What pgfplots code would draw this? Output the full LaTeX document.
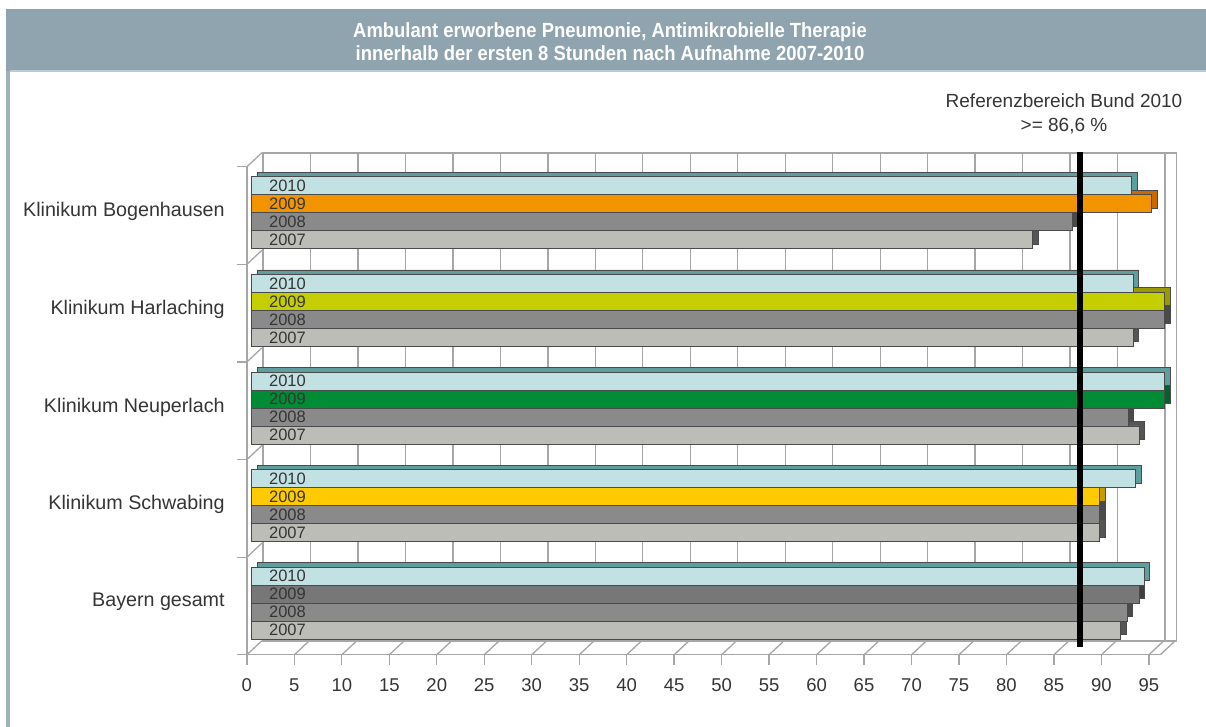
\documentclass[border=0pt]{standalone}
\usepackage{fontspec}
\setmainfont{Liberation Sans}
\newfontfamily\titlefont[FakeStretch=0.9]{Liberation Sans}
\usepackage{pgfplots}
\pgfplotsset{compat=1.18}

\definecolor{hdr}{HTML}{8FA4AE}
\definecolor{hdrlight}{HTML}{BACAD2}
\definecolor{sideline}{HTML}{9DB1BA}
\definecolor{gridgray}{HTML}{A6A6A6}
\definecolor{edge}{HTML}{4A4A4A}
\definecolor{txt}{HTML}{353535}
\definecolor{cA}{HTML}{C2E1E3}\definecolor{cAd}{HTML}{5F9E9E}
\definecolor{cG1}{HTML}{8A8A8A}\definecolor{cG1d}{HTML}{4A4A4A}
\definecolor{cG2}{HTML}{BDBDB8}\definecolor{cG2d}{HTML}{555555}
\definecolor{cOr}{HTML}{F29400}\definecolor{cOrd}{HTML}{C8680A}
\definecolor{cYg}{HTML}{C4CE00}\definecolor{cYgd}{HTML}{9A9A00}
\definecolor{cGr}{HTML}{008C35}\definecolor{cGrd}{HTML}{006428}
\definecolor{cYe}{HTML}{FFCB00}\definecolor{cYed}{HTML}{C79A00}
\definecolor{cDg}{HTML}{777777}\definecolor{cDgd}{HTML}{3E3E3E}

\pgfplotsset{
  frontbar/.style={xbar, bar width=0.184, bar shift=0pt, xshift=5pt, yshift=4.7pt,
    draw=edge, line width=0.8pt, fill=#1},
  backbar/.style={xbar, bar width=0.184, bar shift=0pt, xshift=10.5pt, yshift=9.2pt,
    draw=edge, line width=0.8pt, fill=#1},
}

\begin{document}
\begin{tikzpicture}[x=1pt,y=1pt]
\useasboundingbox (0,0) rectangle (1206,727);
\fill[white] (0,0) rectangle (1206,727);
\fill[hdr] (6,656) rectangle (1206,718);
\fill[hdrlight] (10,654.5) rectangle (1206,657);
\fill[sideline] (6,0) rectangle (10,656);
\node[white, align=center, font=\titlefont\bfseries\fontsize{20.5}{23.5}\selectfont] at (610,685.5)
  {Ambulant erworbene Pneumonie, Antimikrobielle Therapie\\innerhalb der ersten 8 Stunden nach Aufnahme 2007-2010};
\node[txt, align=center, font=\fontsize{19}{24}\selectfont] at (1064,613)
  {Referenzbereich Bund 2010\\>= 86,6 \%};

% back wall
\begin{axis}[at={(277,88)}, anchor=south west, scale only axis,
  width=913.4pt, height=488pt,
  xmin=0, xmax=96.2, ymin=-0.5, ymax=4.5,
  xtick={0,5,...,95}, ytick=\empty, xticklabels={},
  major tick length=0pt,
  xmajorgrids, grid style={gridgray, line width=1.3pt},
  axis line style={gridgray, line width=1.3pt}]
\addplot[draw=none] coordinates {(0,0)};
\end{axis}

% front plane with data
\begin{axis}[at={(260,74)}, anchor=south west, scale only axis,
  width=913.4pt, height=488pt,
  xmin=0, xmax=96.2, ymin=-0.5, ymax=4.5,
  clip=false,
  axis lines=left,
  axis line style={-, gridgray, line width=1.3pt},
  tick style={gridgray, line width=1.3pt},
  tick align=outside, major tick length=10pt,
  xtick={0,5,...,95},
  ytick={-0.5,0.5,...,4.5}, yticklabels={},
  extra y ticks={0,1,2,3,4},
  extra y tick labels={Bayern gesamt, Klinikum Schwabing, Klinikum Neuperlach, Klinikum Harlaching, Klinikum Bogenhausen},
  extra y tick style={major tick length=0pt, yticklabel style={inner sep=0pt, anchor=east, xshift=-22pt, yshift=3.8pt, font=\fontsize{19.7}{22}\selectfont}},
  /pgf/number format/assume math mode=true,
  ticklabel style={txt, font=\fontsize{18.5}{22}\selectfont},
  xticklabel style={inner sep=0pt, anchor=north, yshift=-14pt},
]
% floor and left wall edges
\pgfplotsinvokeforeach{0,5,...,95}{\draw[gridgray, line width=1.3pt] (axis cs:#1,-0.5) -- ++(15pt,14pt);}
\draw[gridgray, line width=1.3pt] (axis cs:96.2,-0.5) -- ++(15pt,14pt);
\pgfplotsinvokeforeach{0.5,1.5,2.5,3.5,4.5}{\draw[gridgray, line width=1.3pt] (axis cs:0,#1) -- ++(15pt,14pt);}

% 2007
\addplot[backbar=cG2d] coordinates {(82.25,3.704) (92.8,2.704) (93.45,1.704) (89.3,0.704) (91.5,-0.296)};
\addplot[frontbar=cG2] coordinates {(82.25,3.704) (92.8,2.704) (93.45,1.704) (89.3,0.704) (91.5,-0.296)};
% 2008
\addplot[backbar=cG1d] coordinates {(86.47,3.888) (96.15,2.888) (92.3,1.888) (89.3,0.888) (92.2,-0.112)};
\addplot[frontbar=cG1] coordinates {(86.47,3.888) (96.15,2.888) (92.3,1.888) (89.3,0.888) (92.2,-0.112)};
% 2009 (colour per clinic)
\addplot[backbar=cOrd] coordinates {(94.75,4.073)};
\addplot[frontbar=cOr] coordinates {(94.75,4.073)};
\addplot[backbar=cYgd] coordinates {(96.15,3.073)};
\addplot[frontbar=cYg] coordinates {(96.15,3.073)};
\addplot[backbar=cGrd] coordinates {(96.15,2.073)};
\addplot[frontbar=cGr] coordinates {(96.15,2.073)};
\addplot[backbar=cYed] coordinates {(89.3,1.073)};
\addplot[frontbar=cYe] coordinates {(89.3,1.073)};
\addplot[backbar=cDgd] coordinates {(93.45,0.073)};
\addplot[frontbar=cDg] coordinates {(93.45,0.073)};
% 2010
\addplot[backbar=cAd] coordinates {(92.65,4.257) (92.8,3.257) (96.15,2.257) (93.1,1.257) (94.0,0.257)};
\addplot[frontbar=cA] coordinates {(92.65,4.257) (92.8,3.257) (96.15,2.257) (93.1,1.257) (94.0,0.257)};

% reference line
\addplot[black, line width=6pt] coordinates {(87.73,-0.418) (87.73,4.654)};

% year labels inside bars
\pgfplotsinvokeforeach{0,1,2,3,4}{
  \node[txt, anchor=west, inner sep=0pt, font=\fontsize{16.5}{18}\selectfont, yshift=29.8pt] at (axis cs:2.32,#1) {2010};
  \node[txt, anchor=west, inner sep=0pt, font=\fontsize{16.5}{18}\selectfont, yshift=11.8pt] at (axis cs:2.32,#1) {2009};
  \node[txt, anchor=west, inner sep=0pt, font=\fontsize{16.5}{18}\selectfont, yshift=-6.2pt] at (axis cs:2.32,#1) {2008};
  \node[txt, anchor=west, inner sep=0pt, font=\fontsize{16.5}{18}\selectfont, yshift=-24.2pt] at (axis cs:2.32,#1) {2007};
}
\end{axis}
\end{tikzpicture}
\end{document}
